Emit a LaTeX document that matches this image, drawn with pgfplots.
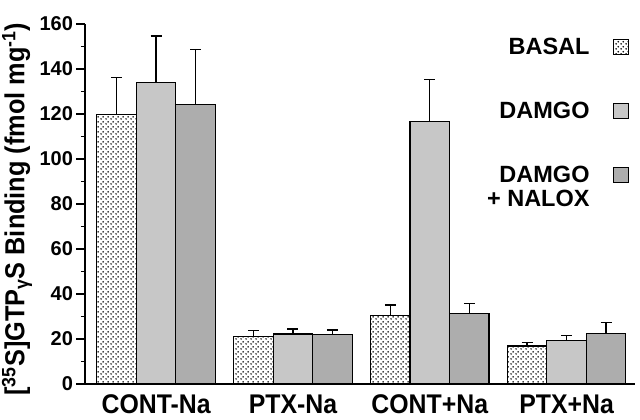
\documentclass[border=0pt]{standalone}
\usepackage{fontspec}
\setmainfont{Liberation Sans}
\newfontfamily\condfont{Liberation Sans}[FakeStretch=0.92]
\usepackage{pgfplots}
\pgfplotsset{compat=1.18}
\usetikzlibrary{patterns}

% staggered dot screen for the BASAL bars
\pgfdeclarepatternformonly{basaldots}{\pgfpointorigin}{\pgfqpoint{5pt}{5pt}}{\pgfqpoint{5pt}{5pt}}{%
  \pgfpathcircle{\pgfqpoint{1.25pt}{1.25pt}}{1pt}%
  \pgfpathcircle{\pgfqpoint{3.75pt}{3.75pt}}{1pt}%
  \pgfusepath{fill}}

\begin{document}
\begin{tikzpicture}
\useasboundingbox (-85pt,-36pt) rectangle (555pt,384pt);
\begin{axis}[
    scale only axis,
    width=550pt, height=360pt,
    xmin=-0.52, xmax=3.50,
    ymin=0, ymax=160,
    enlargelimits=false,
    axis x line*=bottom,
    axis y line*=left,
    axis line style={line width=1.5pt, black},
    ybar=0pt,
    bar width=39.5pt,
    xtick={0,1,2,3},
    xticklabels={CONT-Na, PTX-Na, CONT+Na, PTX+Na},
    major x tick style={draw=none},
    ytick={0,20,...,160},
    minor y tick num=1,
    tick align=outside,
    major tick length=8.5pt,
    minor tick length=4pt,
    y tick style={line width=1.3pt, black},
    /pgf/number format/assume math mode=true,
    x tick label style={font=\condfont\bfseries\fontsize{27}{30}\selectfont, yshift=1pt},
    y tick label style={font=\bfseries\fontsize{20}{24}\selectfont},
    ylabel={[\textsuperscript{35}S]GTP\textsubscript{γ}S Binding (fmol mg\textsuperscript{-1})},
    every axis y label/.style={at={(axis description cs:0,0.486)}, xshift=-68pt,
        rotate=90, anchor=center, font=\condfont\bfseries\fontsize{27.5}{32}\selectfont},
    every axis plot/.append style={draw=black, line width=1.2pt},
    error bars/y dir=plus,
    error bars/y explicit,
    error bars/error bar style={line width=1.3pt, black},
    error bars/error mark options={rotate=90, line width=1.3pt, mark size=5.5pt, black},
    legend plot pos=right,
    legend image code/.code={\draw[#1, line width=1.2pt] (0pt,0pt) rectangle (15pt,15pt);},
    legend style={draw=none, fill=none, at={(0.989,0.961)}, anchor=north east,
        inner sep=0pt, column sep=23pt, row sep=46pt,
        font=\bfseries\fontsize{23.5}{24}\selectfont,
        cells={anchor=base east}, nodes={inner sep=0pt}},
]
\addplot[pattern=basaldots] coordinates {
    (0,119.6) +- (0,16.7)
    (1,21.0)  +- (0,2.7)
    (2,30.4)  +- (0,4.7)
    (3,16.9)  +- (0,1.6)
};
\addplot[fill=black!22] coordinates {
    (0,133.9) +- (0,20.8)
    (1,22.2)  +- (0,2.2)
    (2,116.8) +- (0,18.5)
    (3,19.3)  +- (0,2.2)
};
\addplot[fill=black!32] coordinates {
    (0,124.1) +- (0,24.6)
    (1,22.1)  +- (0,1.9)
    (2,31.4)  +- (0,4.5)
    (3,22.4)  +- (0,4.9)
};
\legend{BASAL, DAMGO, {\begin{tabular}[t]{@{}r@{}}DAMGO\\+ NALOX\end{tabular}}}
\end{axis}
\end{tikzpicture}
\end{document}
